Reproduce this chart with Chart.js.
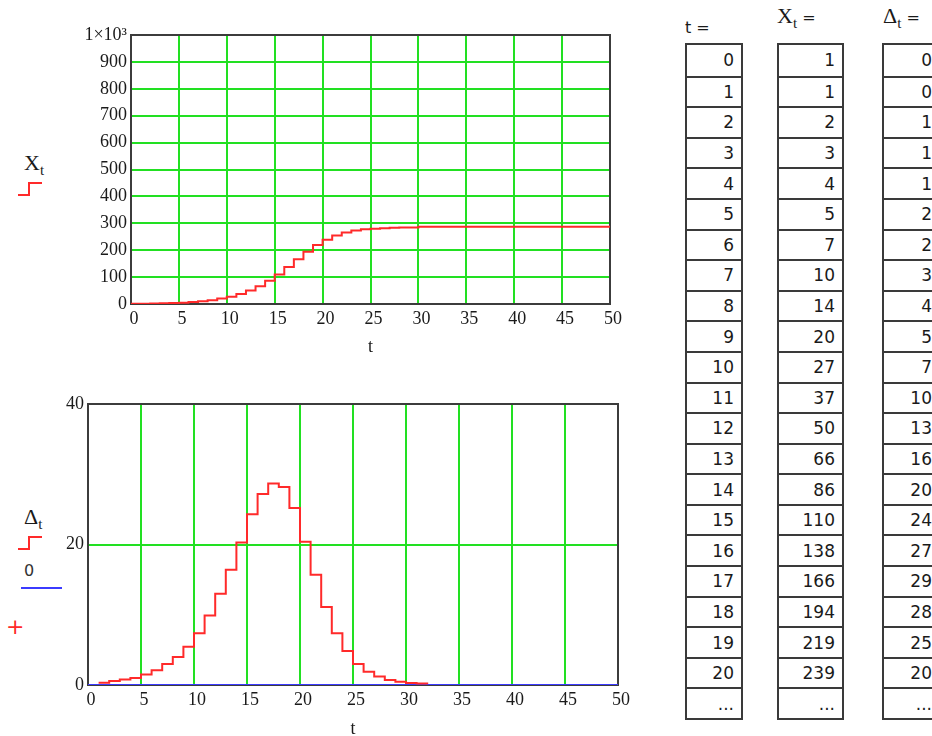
<!DOCTYPE html>
<html>
<head>
<meta charset="utf-8">
<script src="https://cdn.jsdelivr.net/npm/chart.js@4.4.1/dist/chart.umd.min.js"></script>
<style>
  html, body { margin: 0; padding: 0; background: #fff; width: 932px; height: 736px; overflow: hidden; }
  body { position: relative; font-family: 'DejaVu Sans', sans-serif; color: #1a1a1a; }
  .abs { position: absolute; }
  #topWrap { left: 60px; top: 10px; width: 590px; height: 350px; }
  #botWrap { left: 20px; top: 380px; width: 620px; height: 360px; }
  .serif { font-family: 'Liberation Serif', 'Times New Roman', serif; }
  .sym { font-size: 22px; line-height: 1; }
  .sym sub { font-size: 15px; vertical-align: -5px; }
  .hdr { font-size: 16px; }
  .col { position: absolute; top: 43px; height: 677px; border: 2px solid #3a3a3a; box-sizing: border-box;
         display: grid; grid-template-rows: repeat(22, 1fr); font-size: 17px; }
  .col div { border-top: 2px solid #3a3a3a; display: flex; align-items: center; justify-content: flex-end;
             padding-right: 7px; }
  .col div:first-child { border-top: none; }
</style>
</head>
<body>

<!-- legends on the left -->
<div class="abs serif sym" style="left:24px; top:152px;">X<sub>t</sub></div>
<svg class="abs" style="left:16px; top:181px;" width="28" height="16">
  <polyline points="2,14 13,14 13,2 26,2" fill="none" stroke="#ff2a2a" stroke-width="2"/>
</svg>

<div class="abs serif sym" style="left:24px; top:506px;">&Delta;<sub>t</sub></div>
<svg class="abs" style="left:16px; top:535px;" width="28" height="16">
  <polyline points="2,14 13,14 13,2 26,2" fill="none" stroke="#ff2a2a" stroke-width="2"/>
</svg>
<div class="abs" style="left:24px; top:561px; font-size:16px; color:#333;">0</div>
<div class="abs" style="left:21px; top:587px; width:41px; height:2px; background:#3b3bff;"></div>
<div class="abs" style="left:6px; top:616px; font-size:22px; line-height:1; color:#ff2a2a;">+</div>

<div id="topWrap" class="abs"><canvas id="topChart"></canvas></div>
<div id="botWrap" class="abs"><canvas id="botChart"></canvas></div>

<!-- table headers -->
<div class="abs hdr" style="left:685px; top:18px;">t =</div>
<div class="abs" style="left:777px; top:5px;"><span class="serif sym">X<sub>t</sub></span> <span class="hdr">=</span></div>
<div class="abs" style="left:883px; top:5px;"><span class="serif sym">&Delta;<sub>t</sub></span> <span class="hdr">=</span></div>

<div id="colT" class="col" style="left:685px; width:58px;"></div>
<div id="colX" class="col" style="left:777px; width:67px;"></div>
<div id="colD" class="col" style="left:882px; width:59px;"></div>

<script>
// t = 0..50
const tValues = [0,1,2,3,4,5,6,7,8,9,10,11,12,13,14,15,16,17,18,19,20,
  21,22,23,24,25,26,27,28,29,30,31,32,33,34,35,36,37,38,39,40,
  41,42,43,44,45,46,47,48,49,50];

// X_t, cumulative (first 21 from the table, rest)
const xValues = [1,1,2,3,4,5,7,10,14,20,27,37,50,66,86,110,138,166,194,219,239,
  255,266,273,278,280,282,283,284,284,287,287,287,287,287,287,287,287,287,287,287,
  287,287,287,287,287,287,287,287,287,287];

// Delta_t for t = 0..32
const deltaT = [0,1,2,3,4,5,6,7,8,9,10,11,12,13,14,15,16,17,18,19,20,
  21,22,23,24,25,26,27,28,29,30,31,32];
const deltaValues = [0,0.33,0.57,0.8,1.0,1.5,2.1,3.0,4.0,5.45,7.35,9.9,13.0,16.4,20.3,24.3,27.2,28.7,28.2,25.2,20.4,
  15.7,11.1,7.35,4.85,3.0,1.9,1.2,0.7,0.45,0.3,0.2,0.1];

// the "0" trace
const zeroT = [0, 50];
const zeroValues = [0, 0];

const xTicks = { min: 0, max: 50, step: 5 };
const topYTicks = { min: 0, max: 1000, step: 100 };
const botYTicks = { min: 0, max: 40, step: 20 };

const ROWS = 21;

const RED = '#ff2a2a';
const GREEN = '#22e022';
const BLUE = '#3b3bff';
const FRAME = '#3c3c3c';
const TICK_FONT = { family: "'Liberation Serif', 'Times New Roman', serif", size: 18 };

// black frame around the plot, under the traces
const framePlugin = {
  id: 'frame',
  beforeDatasetsDraw(chart) {
    const { ctx, chartArea: a } = chart;
    ctx.save();
    ctx.strokeStyle = FRAME;
    ctx.lineWidth = 2;
    ctx.strokeRect(a.left, a.top, a.right - a.left, a.bottom - a.top);
    ctx.restore();
  }
};

function pts(xs, ys) {
  return xs.map((x, i) => ({ x: x, y: ys[i] }));
}

function xScale(height, titlePad) {
  return {
    type: 'linear',
    min: xTicks.min, max: xTicks.max,
    afterFit: s => { s.height = height; },
    ticks: { stepSize: xTicks.step, color: '#1a1a1a', font: TICK_FONT, padding: 4, labelOffset: 3, maxRotation: 0 },
    grid: { color: GREEN, lineWidth: 2, drawTicks: false },
    border: { display: false },
    title: { display: true, text: 't', color: '#1a1a1a', font: TICK_FONT, padding: { top: 0, bottom: titlePad } }
  };
}

function yScale(t, width, fmt) {
  return {
    type: 'linear',
    min: t.min, max: t.max,
    afterFit: s => { s.width = width; },
    ticks: { stepSize: t.step, color: '#1a1a1a', font: TICK_FONT, padding: 4, callback: fmt },
    grid: { color: GREEN, lineWidth: 2, drawTicks: false },
    border: { display: false }
  };
}

Chart.defaults.animation = false;

// ── X_t ──
new Chart(document.getElementById('topChart'), {
  type: 'line',
  data: {
    datasets: [{
      data: pts(tValues, xValues),
      borderColor: RED,
      borderWidth: 2,
      pointRadius: 0,
      stepped: 'before'
    }]
  },
  options: {
    responsive: true,
    maintainAspectRatio: false,
    layout: { padding: { top: 25, right: 40, left: 0, bottom: 0 } },
    plugins: { legend: { display: false }, tooltip: { enabled: false } },
    scales: {
      x: xScale(56, 2),
      y: yScale(topYTicks, 71, v => v === 1000 ? '1×10³' : v)
    }
  },
  plugins: [framePlugin]
});

// ── Delta_t ──
new Chart(document.getElementById('botChart'), {
  type: 'line',
  data: {
    datasets: [{
      data: pts(deltaT.slice(1), deltaValues.slice(1)),
      borderColor: RED,
      borderWidth: 2,
      pointRadius: 0,
      stepped: 'before',
      order: 0
    }, {
      data: pts(zeroT, zeroValues),
      borderColor: BLUE,
      borderWidth: 2,
      pointRadius: 0,
      order: 1
    }]
  },
  options: {
    responsive: true,
    maintainAspectRatio: false,
    layout: { padding: { top: 24, right: 22, left: 0, bottom: 0 } },
    plugins: { legend: { display: false }, tooltip: { enabled: false } },
    scales: {
      x: xScale(55, 0),
      y: yScale(botYTicks, 68)
    }
  },
  plugins: [framePlugin]
});

// ── tables ──
function fillCol(id, vals) {
  const el = document.getElementById(id);
  vals.concat(['...']).forEach(v => {
    const d = document.createElement('div');
    d.textContent = v;
    el.appendChild(d);
  });
}
fillCol('colT', tValues.slice(0, ROWS));
fillCol('colX', xValues.slice(0, ROWS));
fillCol('colD', deltaValues.slice(0, ROWS).map(v => Math.round(v)));
</script>
</body>
</html>
